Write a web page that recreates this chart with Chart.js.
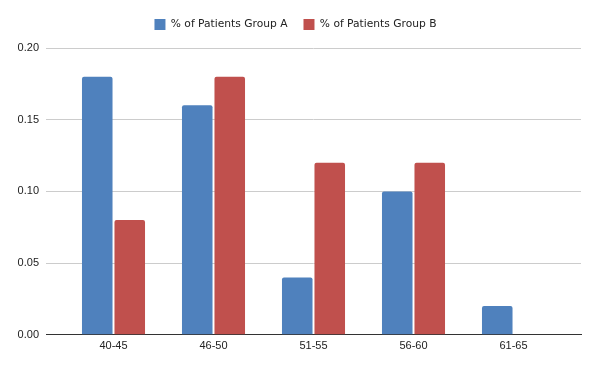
<!DOCTYPE html>
<html>
<head>
<meta charset="utf-8">
<script src="https://cdn.jsdelivr.net/npm/chart.js@4"></script>
<style>
  html, body { margin: 0; padding: 0; background: #fff; }
  #wrap { width: 600px; height: 371px; }
</style>
</head>
<body>
<div id="wrap"><canvas id="myChart" width="600" height="371"></canvas></div>
<script>
// data
const ageGroups = ['40-45', '46-50', '51-55', '56-60', '61-65'];
const groupA = [0.18, 0.16, 0.04, 0.10, 0.02];
const groupB = [0.08, 0.18, 0.12, 0.12, 0];
const yTicks = [0, 0.05, 0.10, 0.15, 0.20];

const FONT = "'Liberation Sans', Arial, sans-serif";
const LEGEND_FONT = "'DejaVu Sans', sans-serif";

const data = {
  labels: ageGroups,
  datasets: [{
    label: '% of Patients Group A',
    backgroundColor: '#4f81bd',
    data: groupA,
    borderRadius: 2,
    borderSkipped: 'bottom',
    categoryPercentage: 0.65,
    barPercentage: 0.94
  },
  {
    label: '% of Patients Group B',
    backgroundColor: '#c0504d',
    data: groupB,
    borderRadius: 2,
    borderSkipped: 'bottom',
    categoryPercentage: 0.65,
    barPercentage: 0.94
  }]
};

// a bit more room under the legend
const legendSpace = {
  id: 'legendSpace',
  beforeInit(chart) {
    const fit = chart.legend.fit;
    chart.legend.fit = function () {
      fit.call(this);
      this.height += 8;
    };
  }
};

const config = {
  type: 'bar',
  data: data,
  plugins: [legendSpace],
  options: {
    responsive: false,
    animation: false,
    layout: { padding: { left: 10, right: 19, top: 3, bottom: 13 } },
    plugins: {
      legend: {
        position: 'top',
        labels: {
          boxWidth: 11,
          boxHeight: 11,
          padding: 16,
          color: '#222',
          font: { family: LEGEND_FONT, size: 10.7 }
        }
      },
      tooltip: { enabled: false }
    },
    scales: {
      x: {
        grid: { display: false, drawTicks: false },
        border: { display: true, color: '#333', width: 1 },
        ticks: { color: '#222', font: { family: FONT, size: 11 }, padding: 5 },
        afterBuildTicks: scale => {
          // extra room at both ends of the category axis
          scale._startValue = -0.675;
          scale._valueRange = 5.35;
        }
      },
      y: {
        min: 0,
        max: 0.2,
        afterBuildTicks: scale => {
          scale.ticks = yTicks.map(v => ({ value: v }));
        },
        afterFit: scale => { scale.width = 36; },
        grid: { color: '#cccccc', drawTicks: false },
        border: { display: false },
        ticks: {
          color: '#222',
          padding: 7,
          font: { family: FONT, size: 11 },
          callback: v => Number(v).toFixed(2)
        }
      }
    }
  }
};

const myChart = new Chart(document.getElementById('myChart'), config);
</script>
</body>
</html>
